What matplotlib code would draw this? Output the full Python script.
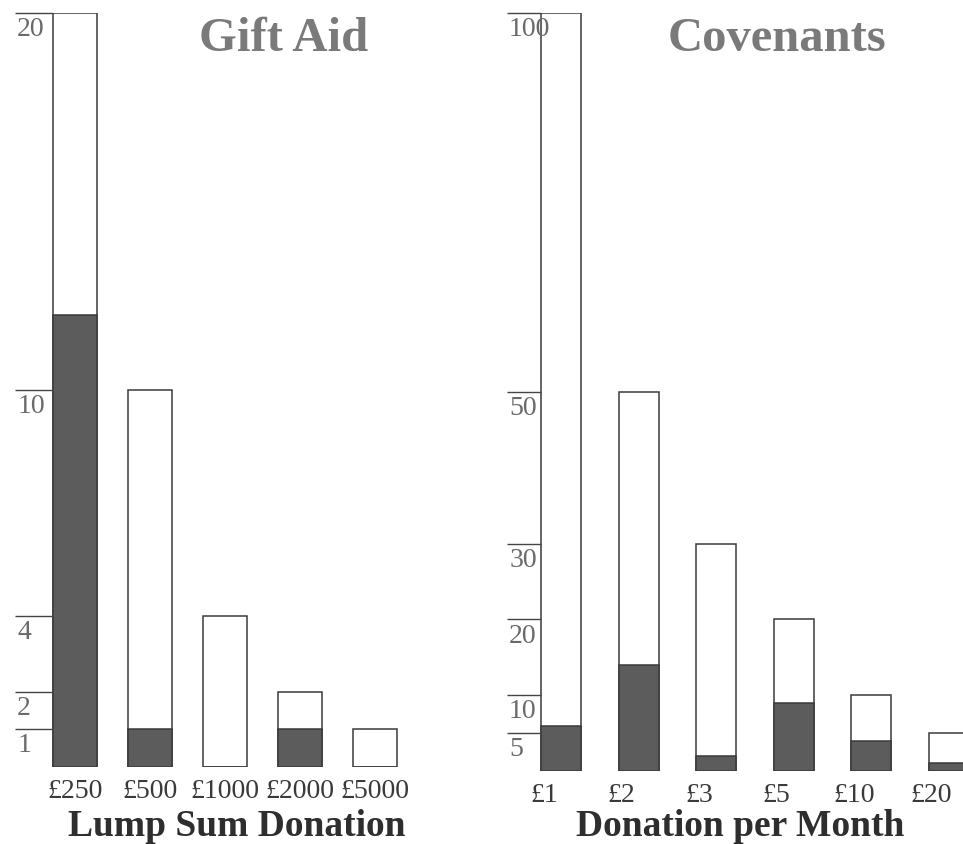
import matplotlib
matplotlib.use("Agg")
import matplotlib.pyplot as plt
import matplotlib.transforms as mtransforms

# Gift Aid (lump sum)
gift_labels = ["£250", "£500", "£1000", "£2000", "£5000"]
gift_total = [20, 10, 4, 2, 1]
gift_dark = [12, 1, 0, 1, 0]
gift_ticks = [1, 2, 4, 10, 20]

# Covenants (per month)
cov_labels = ["£1", "£2", "£3", "£5", "£10", "£20"]
cov_total = [100, 50, 30, 20, 10, 5]
cov_dark = [6, 14, 2, 9, 4, 1]
cov_ticks = [5, 10, 20, 30, 50, 100]

W, H = 963, 844
plt.rcParams.update({"font.family": ["Liberation Serif", "DejaVu Serif"]})

fig = plt.figure(figsize=(W / 100, H / 100), dpi=100)
fig.patch.set_facecolor("white")

EDGE = "#3a3a3a"
DARK = "#5c5c5c"
TICK_COL = "#6a6a6a"


def panel(rect, labels, total, dark, ticks, xlim, ymax, width, tick_x0, lab_shift):
    ax = fig.add_axes(rect)
    x = list(range(len(labels)))
    ax.bar(x, total, width=width, color="white", edgecolor=EDGE, linewidth=1.1)
    ax.bar(x, dark, width=width, color=DARK, edgecolor=EDGE, linewidth=1.1)
    ax.set_xlim(*xlim)
    ax.set_ylim(0, ymax)
    for s in ax.spines.values():
        s.set_visible(False)
    ax.set_yticks([])
    ax.set_xticks(x, labels)
    ax.tick_params(axis="x", length=0, pad=9, labelsize=20, labelcolor="#3a3a3a")
    off = mtransforms.ScaledTranslation(lab_shift, 0, fig.dpi_scale_trans)
    for t in ax.get_xticklabels():
        t.set_transform(t.get_transform() + off)
    # tick marks: short lines left of first bar, label just below each line
    ax.hlines(ticks, tick_x0, -width / 2, color="#444444", linewidth=1.0,
              clip_on=False)
    for v in ticks:
        ax.annotate(str(v), (tick_x0 + 0.03, v), xytext=(0, -3),
                    textcoords="offset points", ha="left", va="top",
                    fontsize=20, color=TICK_COL, annotation_clip=False)
    ax.patch.set_alpha(0)
    return ax


panel([0 / W, (H - 767) / H, 420 / W, 754 / H],
      gift_labels, gift_total, gift_dark, gift_ticks,
      (-1.0, 4.6), 20, 0.59, -0.8, 0.0)

panel([490 / W, (H - 771) / H, 490 / W, 758 / H],
      cov_labels, cov_total, cov_dark, cov_ticks,
      (-0.916, 5.406), 100, 0.516, -0.70, -0.17)

fig.text(284 / W, 1 - 39 / H, "Gift Aid", ha="center", va="center",
         fontsize=35, fontweight="bold", color="#7a7a7a")
fig.text(777 / W, 1 - 39 / H, "Covenants", ha="center", va="center",
         fontsize=35, fontweight="bold", color="#7a7a7a")
fig.text(237 / W, 1 - 826 / H, "Lump Sum Donation", ha="center", va="center",
         fontsize=27, fontweight="bold", color="#2e2e2e")
fig.text(740 / W, 1 - 826 / H, "Donation per Month", ha="center", va="center",
         fontsize=27, fontweight="bold", color="#2e2e2e")

fig.savefig("out.png", dpi=100)
